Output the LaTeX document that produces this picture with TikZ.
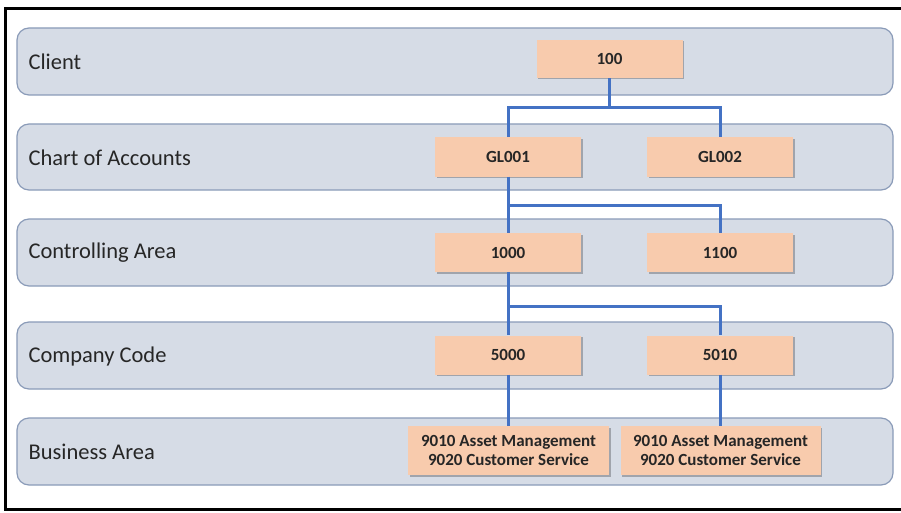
\documentclass[tikz,border=0pt]{standalone}
\usepackage{fontspec}
\setmainfont{Carlito}
\usetikzlibrary{shadows}
\definecolor{bandfill}{HTML}{D6DCE6}
\definecolor{banddraw}{HTML}{8A9BB8}
\definecolor{boxfill}{HTML}{F8CBAD}
\definecolor{linkblue}{HTML}{4472C4}
\tikzset{
  band/.style={draw=banddraw, line width=1.2pt, fill=bandfill, rounded corners=12pt},
  bandlabel/.style={anchor=west, font=\fontsize{22.5}{25}\selectfont, text=black!85},
  orgbox/.style={fill=boxfill, draw=none, inner sep=0pt, font=\bfseries\fontsize{17}{20}\selectfont, text=black!85, align=center,
    drop shadow={shadow xshift=1.5pt, shadow yshift=-1.5pt, fill=black, opacity=0.25}},
  link/.style={draw=linkblue, line width=3pt}
}
\begin{document}
\begin{tikzpicture}[x=1pt,y=-1pt]
\useasboundingbox (0,0) rectangle (901,513);
\fill[white] (0,0) rectangle (901,513);
% frame
\draw[line width=3pt, black] (901,9) -- (5.5,9) -- (5.5,509) -- (901,509);
% bands
\draw[band] (17,28) rectangle (893,95);
\draw[band] (17,124) rectangle (893,190);
\draw[band] (17,219) rectangle (893,286);
\draw[band] (17,322) rectangle (893,389);
\draw[band] (17,418) rectangle (893,485);
\node[bandlabel] (lclient) at (25,62) {Client};
\node[bandlabel] (lcoa) at (25,158) {Chart of Accounts};
\node[bandlabel] (lca) at (25,253) {Controlling Area};
\node[bandlabel] (lcc) at (25,356) {Company Code};
\node[bandlabel] (lba) at (25,452) {Business Area};
% boxes
\node[orgbox, minimum width=146pt, minimum height=38pt] (c100) at (609.5,59) {100};
\node[orgbox, minimum width=146pt, minimum height=39pt] (gl1) at (508,157) {GL001};
\node[orgbox, minimum width=146pt, minimum height=39pt] (gl2) at (720,157) {GL002};
\node[orgbox, minimum width=146pt, minimum height=39pt] (ca1) at (508,252.5) {1000};
\node[orgbox, minimum width=146pt, minimum height=39pt] (ca2) at (720,252.5) {1100};
\node[orgbox, minimum width=146pt, minimum height=39pt] (cc1) at (508,355) {5000};
\node[orgbox, minimum width=146pt, minimum height=39pt] (cc2) at (720,355) {5010};
\node[orgbox, minimum width=201pt, minimum height=49pt] (ba1) at (508.5,450.5) {9010 Asset Management\\[-1pt]9020 Customer Service};
\node[orgbox, minimum width=200pt, minimum height=49pt] (ba2) at (720.5,450.5) {9010 Asset Management\\[-1pt]9020 Customer Service};
% connectors
\coordinate (j1) at (609.5,108);
\coordinate (j2) at (508,205);
\coordinate (j3) at (508,306);
\draw[link] (c100.south) -- (j1) -| (gl1.north);
\draw[link] (j1) -| (gl2.north);
\draw[link] (gl1.south) -- (ca1.north);
\draw[link] (j2) -| (ca2.north);
\draw[link] (ca1.south) -- (cc1.north);
\draw[link] (j3) -| (cc2.north);
\draw[link] (cc1.south) -- (ba1.north -| cc1.south);
\draw[link] (cc2.south) -- (ba2.north -| cc2.south);
\end{tikzpicture}
\end{document}
